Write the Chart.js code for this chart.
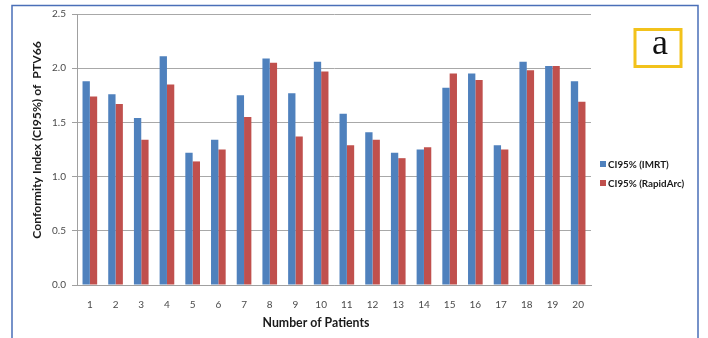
<!DOCTYPE html>
<html>
<head>
<meta charset="utf-8">
<script src="https://cdn.jsdelivr.net/npm/chart.js@4/dist/chart.umd.min.js"></script>
<style>
  html, body { margin: 0; padding: 0; background: #ffffff; }
  canvas { display: block; }
</style>
</head>
<body>
<canvas id="ci" width="708" height="338"></canvas>
<script>
// Patients 1..20
const categories = ['1','2','3','4','5','6','7','8','9','10','11','12','13','14','15','16','17','18','19','20'];
// Conformity index CI95% of PTV66 for each plan type
const imrtValues = [1.88, 1.76, 1.54, 2.11, 1.22, 1.34, 1.75, 2.09, 1.77, 2.06, 1.58, 1.41, 1.22, 1.25, 1.82, 1.95, 1.29, 2.06, 2.02, 1.88];
const rapidArcValues = [1.74, 1.67, 1.34, 1.85, 1.14, 1.25, 1.55, 2.05, 1.37, 1.97, 1.29, 1.34, 1.17, 1.27, 1.95, 1.89, 1.25, 1.98, 2.02, 1.69];
const seriesNames = ['CI95% (IMRT)', 'CI95% (RapidArc)'];
const yTickValues = [0, 0.5, 1.0, 1.5, 2.0, 2.5];
const yTitle = 'Conformity Index (CI95%) of  PTV66';
const xTitle = 'Number of Patients';
const panelLetter = 'a';

const FONT = 'Lato, "Open Sans", sans-serif';

// Frame, axis titles, legend and panel letter drawn around the plot
const decorations = {
  id: 'decorations',
  beforeDraw(chart) {
    const ctx = chart.ctx;
    ctx.save();
    ctx.fillStyle = '#ffffff';
    ctx.fillRect(0, 0, chart.width, chart.height);
    // outer blue frame
    ctx.strokeStyle = '#4a6fb8';
    ctx.lineWidth = 1.5;
    ctx.beginPath();
    ctx.moveTo(12, 345);
    ctx.lineTo(12, 5.5);
    ctx.lineTo(698, 5.5);
    ctx.lineTo(698, 345);
    ctx.stroke();
    ctx.restore();
  },
  afterDraw(chart) {
    const ctx = chart.ctx;
    ctx.save();
    ctx.fillStyle = '#1a1a1a';
    // y axis title
    ctx.font = 'bold 12.2px ' + FONT;
    ctx.textAlign = 'center';
    ctx.textBaseline = 'middle';
    ctx.translate(37, 140);
    ctx.rotate(-Math.PI / 2);
    ctx.fillText(yTitle, 0, 0);
    ctx.setTransform(1, 0, 0, 1, 0, 0);
    // x axis title
    ctx.font = 'bold 12.3px ' + FONT;
    ctx.fillText(xTitle, 316, 323);

    // legend
    ctx.font = 'bold 9.8px ' + FONT;
    ctx.textAlign = 'left';
    chart.data.datasets.forEach((ds, i) => {
      const y = 164 + i * 19;
      ctx.fillStyle = ds.backgroundColor;
      ctx.fillRect(600, y - 3, 6, 6);
      ctx.fillStyle = '#1a1a1a';
      ctx.fillText(ds.label, 608, y + 0.5);
    });

    // panel letter box
    ctx.strokeStyle = '#f2c21b';
    ctx.lineWidth = 3;
    ctx.strokeRect(635, 29.5, 46, 37);
    ctx.fillStyle = '#111111';
    ctx.font = '36px "Liberation Serif", "DejaVu Serif", serif';
    ctx.textAlign = 'center';
    ctx.textBaseline = 'alphabetic';
    ctx.fillText(panelLetter, 660, 54);
    ctx.restore();
  }
};

new Chart(document.getElementById('ci'), {
  type: 'bar',
  data: {
    labels: categories,
    datasets: [
      { label: seriesNames[0], data: imrtValues, backgroundColor: '#4f81bd' },
      { label: seriesNames[1], data: rapidArcValues, backgroundColor: '#c0504d' }
    ]
  },
  options: {
    responsive: false,
    animation: false,
    devicePixelRatio: 1,
    layout: { padding: { left: 27, right: 117, top: 14, bottom: 13 } },
    datasets: { bar: { categoryPercentage: 0.57, barPercentage: 1.0 } },
    plugins: {
      legend: { display: false },
      tooltip: { enabled: false },
      title: { display: false }
    },
    scales: {
      x: {
        grid: { display: false, drawTicks: false },
        border: { display: true, color: '#a0a0a0', width: 1 },
        ticks: { color: '#4a4a4a', font: { family: FONT, size: 10 }, padding: 14, maxRotation: 0, autoSkip: false },
        afterFit(scale) { scale.height = 40; }
      },
      y: {
        min: 0,
        max: 2.5,
        afterBuildTicks(scale) { scale.ticks = yTickValues.map(v => ({ value: v })); },
        grid: { color: '#a8a8a8', lineWidth: 1, tickLength: 5, tickColor: '#a0a0a0' },
        border: { display: true, color: '#a0a0a0', width: 1 },
        ticks: {
          color: '#4a4a4a',
          font: { family: FONT, size: 10 },
          padding: 6,
          callback: v => Number(v).toFixed(1)
        },
        afterFit(scale) { scale.width = 50; }
      }
    }
  },
  plugins: [decorations]
});
</script>
</body>
</html>
